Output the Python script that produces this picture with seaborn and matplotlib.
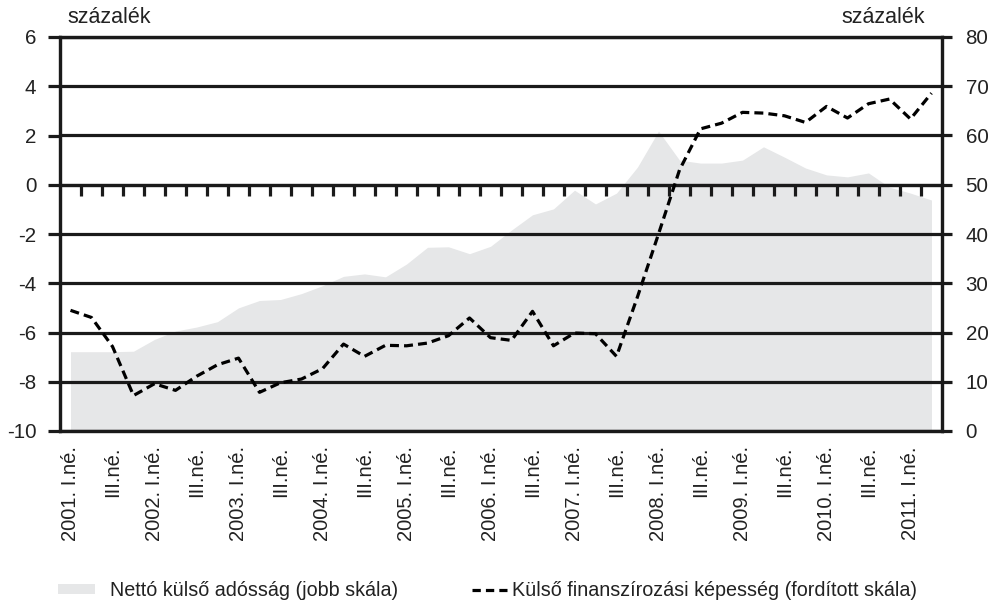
import numpy as np
import pandas as pd
import matplotlib
matplotlib.use("Agg")
import matplotlib.pyplot as plt
import seaborn as sns
from matplotlib.patches import Patch
from matplotlib.lines import Line2D

# Quarterly observations, 2001 Q1 - 2011 Q2
quarters = [f"{y}. {q}" for y in range(2001, 2012)
            for q in ("I.", "II.", "III.", "IV.")][:42]

# Net external debt, % of GDP (right scale)
net_external_debt = [
    16.1, 16.1, 16.1, 16.2, 18.6, 20.3, 21.1, 22.2, 25.0, 26.5,
    26.7, 27.9, 29.5, 31.4, 31.9, 31.3, 33.9, 37.3, 37.4, 36.0,
    37.5, 40.8, 43.9, 45.1, 48.9, 46.1, 48.3, 53.6, 60.9, 55.0,
    54.4, 54.4, 55.0, 57.7, 55.6, 53.4, 52.0, 51.6, 52.4, 49.5,
    48.3, 46.9,
]

# External financing capacity, % of GDP (inverted, left scale)
financing_capacity = [
    -5.10, -5.39, -6.57, -8.56, -8.08, -8.35, -7.78, -7.31, -7.04, -8.43,
    -8.04, -7.89, -7.47, -6.47, -6.97, -6.52, -6.54, -6.43, -6.13, -5.41,
    -6.21, -6.32, -5.14, -6.54, -6.02, -6.05, -6.97, -4.55, -2.00, 0.60,
    2.27, 2.50, 2.94, 2.91, 2.80, 2.53, 3.18, 2.71, 3.29, 3.48,
    2.67, 3.72,
]

tick_labels = [
    "2001. I.né.", "III.né.", "2002. I.né.", "III.né.", "2003. I.né.", "III.né.",
    "2004. I.né.", "III.né.", "2005. I.né.", "III.né.", "2006. I.né.", "III.né.",
    "2007. I.né.", "III.né.", "2008. I.né.", "III.né.", "2009. I.né.", "III.né.",
    "2010. I.né.", "III.né.", "2011. I.né.",
]
left_ticks = [-10, -8, -6, -4, -2, 0, 2, 4, 6]
right_ticks = [0, 10, 20, 30, 40, 50, 60, 70, 80]

AREA_COLOR = "#e6e7e8"
INK = "#1a1a1a"
TEXT = "#222222"
LW = 2.3

sns.set_theme(style="white")
plt.rcParams["font.family"] = ["Liberation Sans", "DejaVu Sans"]
plt.rcParams["axes.unicode_minus"] = False

df = pd.DataFrame({
    "pos": np.arange(len(quarters)),
    "quarter": quarters,
    "debt": net_external_debt,
    "capacity": financing_capacity,
})

W, H = 993, 604
fig = plt.figure(figsize=(W / 100, H / 100), dpi=100)
ax = fig.add_axes([60 / W, 1 - 431 / H, (942 - 60) / W, (431 - 37) / H])
ax2 = ax.twinx()
ax.set_zorder(ax2.get_zorder() + 1)
ax.patch.set_visible(False)

# Right scale: shaded debt area plus the horizontal grid
ax2.fill_between(df["pos"], df["debt"], 0, color=AREA_COLOR, lw=0, zorder=1)
ax2.set_ylim(0, 80)
ax2.set_yticks(right_ticks)
ax2.set_yticklabels([str(t) for t in right_ticks])
ax2.grid(axis="y", color=INK, lw=LW)
ax2.set_axisbelow(False)
ax2.tick_params(axis="y", direction="out", length=7, width=LW, color=INK,
                pad=10, labelsize=14.8, labelcolor=TEXT)

# Left scale: dashed financing-capacity line
sns.lineplot(data=df, x="pos", y="capacity", ax=ax, color="black",
             lw=LW, linestyle=(0, (2.8, 1.6)), legend=False)
ax.set_ylim(-10, 6)
ax.set_xlim(-0.5, len(quarters) - 0.5)
ax.set_yticks(left_ticks)
ax.set_yticklabels([str(t) for t in left_ticks])
ax.tick_params(axis="y", direction="out", length=9, width=LW, color=INK,
               pad=8, labelsize=14.8, labelcolor=TEXT)
ax.set_xticks(np.arange(0, len(quarters), 2))
ax.set_xticklabels(tick_labels, rotation=90, ha="center", va="top")
ax.tick_params(axis="x", length=0, pad=11, labelsize=14.5, labelcolor=TEXT)
ax.set_xlabel("")
ax.set_ylabel("")

for a in (ax, ax2):
    for side in ("left", "right", "top", "bottom"):
        a.spines[side].set_visible(True)
        a.spines[side].set_color(INK)
        a.spines[side].set_linewidth(LW)

# Quarter separators hanging below the zero line
zero = ax.secondary_xaxis(10 / 16)
zero.set_xticks(np.arange(0.5, len(quarters) - 1, 1))
zero.tick_params(axis="x", direction="in", length=8, width=LW, color=INK,
                 labeltop=False, labelbottom=False)
zero.spines["top"].set_linewidth(LW)
zero.spines["top"].set_color(INK)
zero.spines["bottom"].set_visible(False)

# Unit captions
fig.text(67 / W, 1 - 23 / H, "százalék", fontsize=15.5, ha="left",
         va="baseline", color=TEXT)
fig.text(925 / W, 1 - 23 / H, "százalék", fontsize=15.5, ha="right",
         va="baseline", color=TEXT)

# Legend
fig.legend(handles=[Patch(facecolor=AREA_COLOR, edgecolor="none",
                          label="Nettó külső adósság (jobb skála)")],
           loc="center left", bbox_to_anchor=(58 / W, 1 - 591 / H),
           frameon=False, fontsize=14.2, handlelength=1.88, handleheight=0.4,
           handletextpad=0.76, borderpad=0, borderaxespad=0,
           labelcolor=TEXT)
fig.legend(handles=[Line2D([], [], color="black", lw=LW,
                           linestyle=(0, (2.6, 1.6)),
                           label="Külső finanszírozási képesség (fordított skála)")],
           loc="center left", bbox_to_anchor=(472 / W, 1 - 591 / H),
           frameon=False, fontsize=14.2, handlelength=1.78,
           handletextpad=0.25, borderpad=0, borderaxespad=0,
           labelcolor=TEXT)

fig.savefig("out.png", dpi=100)
